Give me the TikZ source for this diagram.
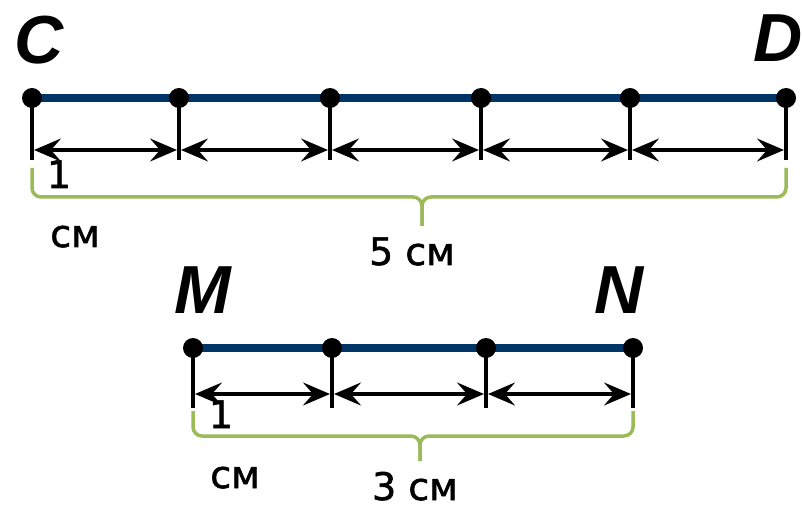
\documentclass[tikz,border=0pt]{standalone}
\usepackage{fontspec}
\setmainfont{DejaVu Sans}
\newfontfamily\labfont{Liberation Sans}
\newfontfamily\txtfont[FakeBold=1.5]{DejaVu Sans}
\usetikzlibrary{arrows.meta,backgrounds}
\definecolor{navy}{RGB}{0,51,102}
\definecolor{brgreen}{RGB}{155,187,89}
\tikzset{dimtip/.tip={Stealth[length=27pt,width=23pt,inset=10pt]}}
\begin{document}
\begin{tikzpicture}[x=1pt,y=-1pt,
  dot/.style={circle,fill=black,inner sep=0pt,minimum size=20pt},
  seg/.style={navy,line width=7.5pt},
  tickline/.style={black,line width=4pt},
  dim/.style={line width=3.2pt,shorten <=2pt,shorten >=2pt,dimtip-dimtip},
  bracepath/.style={brgreen,line width=3.5pt,rounded corners=9pt},
  ptlabel/.style={font=\labfont\bfseries\itshape\fontsize{68}{70}\selectfont,inner sep=0pt,anchor=base},
  txt/.style={font=\txtfont\fontsize{38}{40}\selectfont,inner sep=0pt,text depth=0pt,anchor=base}]
\useasboundingbox (0,0) rectangle (802,510);

% ---------- top segment CD ----------
\foreach \i/\x in {0/32,1/179,2/330,3/481,4/630,5/786}{
  \node[dot] (c\i) at (\x,98) {};
  \coordinate (ct\i) at (\x,160);
  \coordinate (ca\i) at (\x,150);
}
\begin{scope}[on background layer]
  \draw[seg] (c0.center) -- (c5.center);
  \draw[bracepath] (32,168) -- (32,197) -- (422,197) -- (422,226);
  \draw[bracepath] (786,168) -- (786,197) -- (422,197) -- (422,226);
\end{scope}
\foreach \i in {0,...,5}{ \draw[tickline] (c\i.center) -- (ct\i); }
\foreach \i/\j in {0/1,1/2,2/3,3/4,4/5}{ \draw[dim] (ca\i) -- (ca\j); }

\node[ptlabel] (C) at (39,64) {C};
\node[ptlabel] (D) at (778,62) {D};
\node[txt] (one1) at (59,188) {1};
\node[txt] (cm1) at (75,247) {см};
\node[txt] (five) at (412,265) {5 см};

% ---------- bottom segment MN ----------
\foreach \i/\x in {0/193,1/332,2/486,3/633}{
  \node[dot] (m\i) at (\x,348) {};
  \coordinate (mt\i) at (\x,408);
  \coordinate (ma\i) at (\x,394);
}
\begin{scope}[on background layer]
  \draw[seg] (m0.center) -- (m3.center);
  \draw[bracepath] (193,411) -- (193,436) -- (420,436) -- (420,461);
  \draw[bracepath] (633,411) -- (633,436) -- (420,436) -- (420,461);
\end{scope}
\foreach \i in {0,...,3}{ \draw[tickline] (m\i.center) -- (mt\i); }
\foreach \i/\j in {0/1,1/2,2/3}{ \draw[dim] (ma\i) -- (ma\j); }

\node[ptlabel] (M) at (203,313) {M};
\node[ptlabel] (N) at (619,313) {N};
\node[txt] (one2) at (221,428) {1};
\node[txt] (cm2) at (235,488) {см};
\node[txt] (three) at (415,500) {3 см};
\end{tikzpicture}
\end{document}
